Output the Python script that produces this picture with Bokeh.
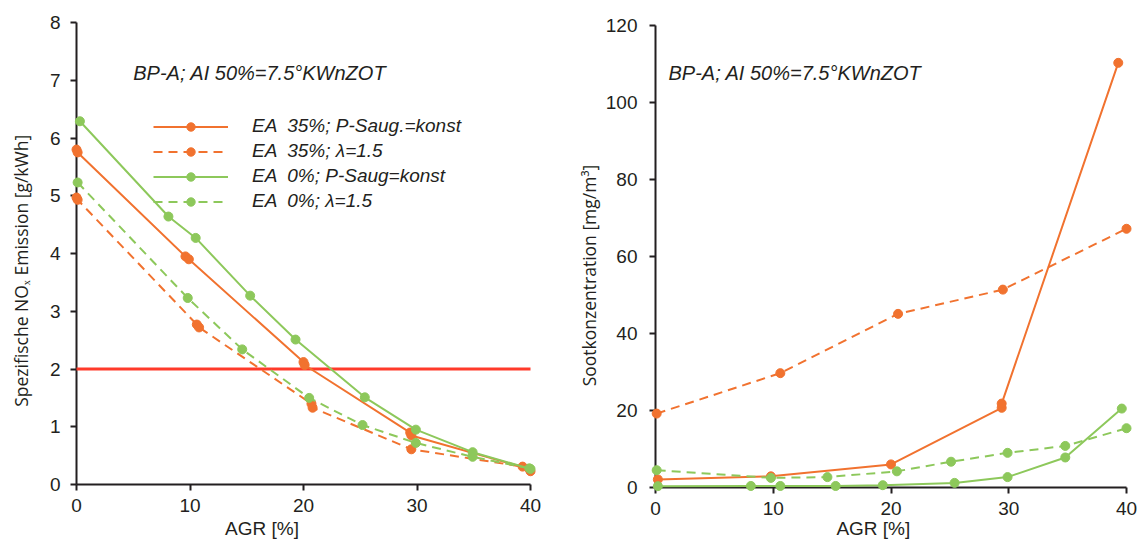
import math
from bokeh.plotting import figure
from bokeh.layouts import row
from bokeh.models import Range1d, Label, Legend, LegendItem
from bokeh.embed import file_html
from bokeh.resources import INLINE

# ---------------- data: left panel (NOx) ----------------
nox_ea35_p_x = [0.0, 0.1, 9.6, 9.9, 20.0, 20.1, 29.4, 29.5, 39.9]
nox_ea35_p_y = [5.80, 5.75, 3.95, 3.90, 2.12, 2.07, 0.90, 0.85, 0.27]
nox_ea35_l_x = [0.0, 0.1, 10.6, 10.8, 20.7, 20.8, 29.5, 39.3, 40.0]
nox_ea35_l_y = [4.97, 4.93, 2.77, 2.72, 1.40, 1.33, 0.61, 0.31, 0.23]
nox_ea0_p_x = [0.3, 8.1, 10.5, 15.3, 19.3, 25.4, 29.9, 34.9, 40.0]
nox_ea0_p_y = [6.29, 4.64, 4.27, 3.27, 2.51, 1.51, 0.95, 0.56, 0.27]
nox_ea0_l_x = [0.1, 9.8, 14.6, 20.5, 25.2, 29.9, 34.9, 39.9]
nox_ea0_l_y = [5.23, 3.23, 2.34, 1.50, 1.03, 0.72, 0.48, 0.28]
limit_x = [0, 40]
limit_y = [2.0, 2.0]

# ---------------- data: right panel (soot) ----------------
soot_ea35_p_x = [0.2, 9.8, 20.0, 29.4, 29.4, 39.3]
soot_ea35_p_y = [2.1, 2.9, 6.0, 20.7, 21.8, 110.3]
soot_ea35_l_x = [0.1, 10.6, 20.6, 29.5, 40.0]
soot_ea35_l_y = [19.2, 29.7, 45.1, 51.4, 67.2]
soot_ea0_p_x = [0.2, 8.1, 10.6, 15.3, 19.3, 25.4, 29.9, 34.8, 39.6]
soot_ea0_p_y = [0.35, 0.4, 0.4, 0.4, 0.6, 1.2, 2.7, 7.8, 20.5]
soot_ea0_l_x = [0.1, 9.8, 14.6, 20.5, 25.1, 29.9, 34.8, 40.0]
soot_ea0_l_y = [4.5, 2.5, 2.7, 4.2, 6.7, 9.0, 10.8, 15.4]

x_ticks = [0, 10, 20, 30, 40]
nox_ticks = [0, 1, 2, 3, 4, 5, 6, 7, 8]
soot_ticks = [0, 20, 40, 60, 80, 100, 120]

legend_labels = [
    "EA  35%; P-Saug.=konst",
    "EA  35%; \u03bb=1.5",
    "EA  0%; P-Saug=konst",
    "EA  0%; \u03bb=1.5",
]
note_text = "BP-A; AI 50%=7.5\u00b0KWnZOT"
x_title = "AGR [%]"
nox_title = "Spezifische NO\u2093 Emission [g/kWh]"
soot_title = "Sootkonzentration [mg/m\u00b3]"

ORANGE = "#F1722F"
GREEN = "#8DC85B"
RED = "#FF3A2A"
INK = "#231F20"
DASH = "9 6"
LW = 2
MS = 9
TICK_FONT = "19px"
YTITLE_FONT = "17.5px"


def style(p):
    for ax in (p.xaxis[0], p.yaxis[0]):
        ax.fixed_location = 0
        ax.level = "underlay"
        ax.axis_line_color = INK
        ax.axis_line_width = 2
        ax.major_tick_line_color = INK
        ax.major_tick_line_width = 2
        ax.major_tick_out = 6
        ax.major_tick_in = 0
        ax.minor_tick_line_color = None
        ax.major_label_text_font = "Liberation Sans"
        ax.major_label_text_font_size = TICK_FONT
        ax.major_label_text_color = INK
    p.xaxis.major_label_standoff = 8
    p.xgrid.visible = False
    p.ygrid.visible = False
    p.outline_line_color = None
    p.background_fill_color = "white"
    p.border_fill_color = "white"


def series(p, xs, ys, color, dash):
    ln = p.line(xs, ys, line_color=color, line_width=LW, line_dash=dash)
    sc = p.scatter(xs, ys, marker="circle", size=MS, fill_color=color, line_color=color)
    return ln, sc


def text(p, x, y, s, size, style="normal", font="Liberation Sans", align="left",
         baseline="alphabetic", angle=0.0):
    p.add_layout(Label(x=x, y=y, text=s, text_font=font, text_font_style=style,
                       text_font_size=size, text_color=INK, text_align=align,
                       text_baseline=baseline, angle=angle))


# ---------------- left figure ----------------
p1 = figure(width=572, height=539, x_range=Range1d(-6.696, 43.70), y_range=Range1d(-0.952, 8.381),
            output_backend="svg", toolbar_location=None,
            min_border_left=0, min_border_right=0, min_border_top=0, min_border_bottom=0)
style(p1)
p1.xaxis.ticker = x_ticks
p1.xaxis.bounds = (0, 40)
p1.yaxis.ticker = nox_ticks
p1.yaxis.bounds = (0, 8)
p1.yaxis.major_label_standoff = 10

p1.line(limit_x, limit_y, line_color=RED, line_width=3)
r1 = series(p1, nox_ea35_p_x, nox_ea35_p_y, ORANGE, "solid")
r2 = series(p1, nox_ea35_l_x, nox_ea35_l_y, ORANGE, DASH)
r3 = series(p1, nox_ea0_p_x, nox_ea0_p_y, GREEN, "solid")
r4 = series(p1, nox_ea0_l_x, nox_ea0_l_y, GREEN, DASH)

legend = Legend(
    items=[LegendItem(label=lab, renderers=list(r)) for lab, r in zip(legend_labels, [r1, r2, r3, r4])],
    location=(153, 327), padding=0, margin=0, spacing=3,
    glyph_width=75, glyph_height=21, label_height=21, label_standoff=24,
    border_line_color=None, background_fill_alpha=0,
    label_text_font="Liberation Sans", label_text_font_style="italic",
    label_text_font_size="19px", label_text_color=INK,
)
p1.add_layout(legend)
text(p1, 5.0, 7.117, note_text, "20px", style="italic")
text(p1, 16.34, -0.761, x_title, TICK_FONT, align="center")
text(p1, -4.93, 3.70, nox_title, YTITLE_FONT, font="Open Sans", align="center",
     baseline="middle", angle=math.pi / 2)

# ---------------- right figure ----------------
p2 = figure(width=565, height=539, x_range=Range1d(-7.049, 40.934), y_range=Range1d(-13.506, 126.494),
            output_backend="svg", toolbar_location=None,
            min_border_left=0, min_border_right=0, min_border_top=0, min_border_bottom=0)
style(p2)
p2.xaxis.ticker = x_ticks
p2.xaxis.bounds = (0, 40)
p2.yaxis.ticker = soot_ticks
p2.yaxis.bounds = (0, 120)
p2.yaxis.major_label_standoff = 12

series(p2, soot_ea35_p_x, soot_ea35_p_y, ORANGE, "solid")
series(p2, soot_ea35_l_x, soot_ea35_l_y, ORANGE, DASH)
series(p2, soot_ea0_p_x, soot_ea0_p_y, GREEN, "solid")
series(p2, soot_ea0_l_x, soot_ea0_l_y, GREEN, DASH)
text(p2, 1.1, 107.56, note_text, "20px", style="italic")
text(p2, 18.5, -10.65, x_title, TICK_FONT, align="center")
text(p2, -5.69, 55.06, soot_title, YTITLE_FONT, font="Open Sans", align="center",
     baseline="middle", angle=math.pi / 2)

layout = row(p1, p2, spacing=0)
open("out.html", "w").write(file_html(layout, INLINE))
